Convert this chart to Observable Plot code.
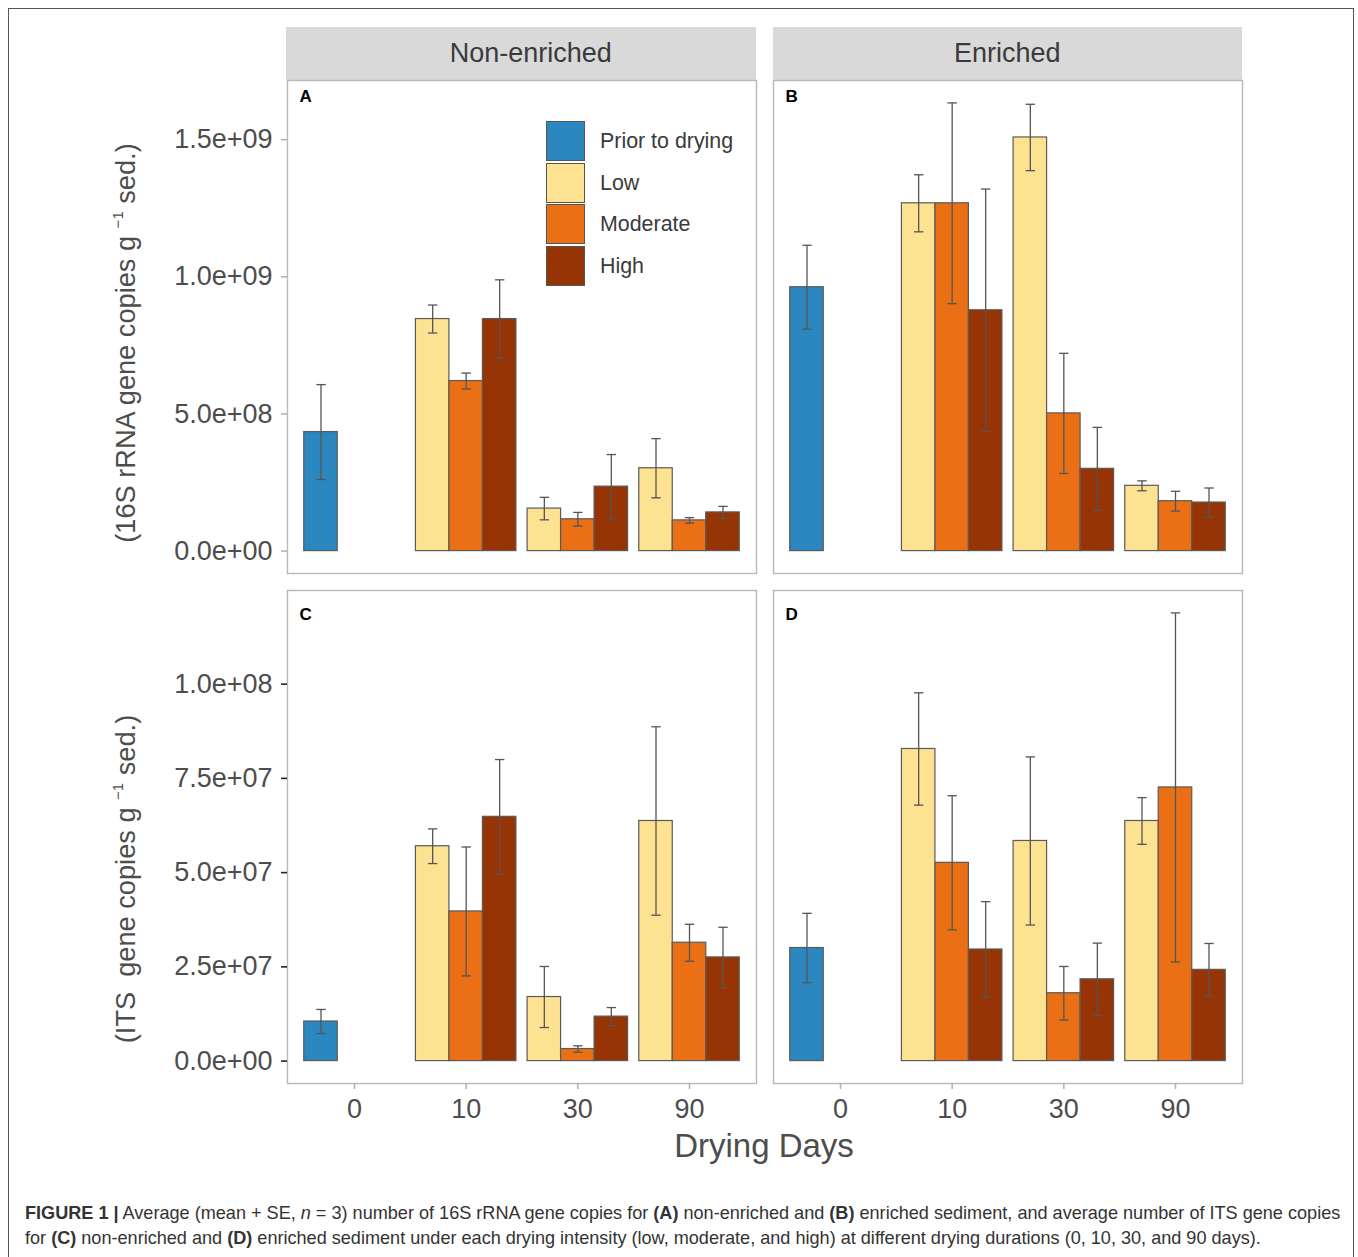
<!DOCTYPE html>
<html>
<head>
<meta charset="utf-8">
<script src="https://cdn.jsdelivr.net/npm/d3@7"></script>
<script src="https://cdn.jsdelivr.net/npm/@observablehq/plot@0.6"></script>
<style>
  html, body { margin: 0; padding: 0; background: #fff; }
  #page { position: relative; width: 1358px; height: 1257px; overflow: hidden; font-family: "Liberation Sans", Arial, sans-serif; }
  #border { position: absolute; left: 8px; top: 8px; width: 1346px; height: 1270px; border: 1.5px solid #555; box-sizing: border-box; }
  .strip { position: absolute; top: 27px; height: 53px; background: #d9d9d9; color: #3a3a3a; font-size: 27px; display: flex; align-items: center; justify-content: center; box-sizing: border-box; }
  .plot { position: absolute; left: 0; }
  .ytitle { position: absolute; font-size: 27.2px; color: #4d4d4d; white-space: pre; transform: translate(-50%, -50%) rotate(-90deg); }
  .ytitle sup { font-size: 15px; vertical-align: 12px; }
  #xtitle { position: absolute; left: 764px; top: 1146px; transform: translate(-50%, -50%); font-size: 33px; color: #4d4d4d; }
  .sw { position: absolute; left: 546px; width: 39px; height: 40px; border: 1.5px solid #555; box-sizing: border-box; }
  .lt { position: absolute; left: 600px; font-size: 21.4px; color: #3a3a3a; transform: translateY(-50%); white-space: nowrap; }
  #caption { position: absolute; left: 25px; top: 1201px; font-size: 18.1px; line-height: 25px; color: #333; white-space: nowrap; }
</style>
</head>
<body>
<div id="page">
  <div id="border"></div>
</div>
<script>
// ---------- data ----------
const days = ["0", "10", "30", "90"];
const treatments = ["Prior to drying", "Low", "Moderate", "High"];
const enrichment = ["Non-enriched", "Enriched"];
const colors = ["#2c87bf", "#fde291", "#ea6f15", "#973405"];

const barDays = ["0", "10", "10", "10", "30", "30", "30", "90", "90", "90"];
const barTreatments = ["Prior to drying", "Low", "Moderate", "High", "Low", "Moderate", "High", "Low", "Moderate", "High"];

// 16S rRNA gene copies (panel A: non-enriched, panel B: enriched)
const meanA = [4.34e8, 8.46e8, 6.20e8, 8.46e8, 1.55e8, 1.16e8, 2.35e8, 3.02e8, 1.12e8, 1.41e8];
const seA   = [1.73e8, 0.51e8, 0.29e8, 1.43e8, 0.41e8, 0.25e8, 1.17e8, 1.08e8, 0.10e8, 0.22e8];
const meanB = [9.62e8, 12.68e8, 12.68e8, 8.78e8, 15.08e8, 5.02e8, 3.00e8, 2.38e8, 1.82e8, 1.77e8];
const seB   = [1.53e8, 1.04e8, 3.66e8, 4.42e8, 1.21e8, 2.19e8, 1.51e8, 0.18e8, 0.36e8, 0.53e8];

// ITS gene copies (panel C: non-enriched, panel D: enriched)
const meanC = [1.05e7, 5.70e7, 3.97e7, 6.48e7, 1.70e7, 0.32e7, 1.18e7, 6.37e7, 3.14e7, 2.75e7];
const seC   = [0.32e7, 0.46e7, 1.71e7, 1.52e7, 0.81e7, 0.085e7, 0.24e7, 2.50e7, 0.49e7, 0.80e7];
const meanD = [3.00e7, 8.28e7, 5.26e7, 2.96e7, 5.84e7, 1.80e7, 2.17e7, 6.37e7, 7.26e7, 2.42e7];
const seD   = [0.92e7, 1.49e7, 1.78e7, 1.27e7, 2.23e7, 0.71e7, 0.96e7, 0.62e7, 4.63e7, 0.70e7];

const ticks16S = [0, 5e8, 1e9, 1.5e9];
const ticksITS = [0, 2.5e7, 5e7, 7.5e7, 1e8];
const panelLabelsTop = ["A", "B"];
const panelLabelsBottom = ["C", "D"];

// ---------- helpers ----------
function sci(v) {
  const [m, e] = v.toExponential(1).split("e");
  const n = +e;
  return `${m}e${n < 0 ? "-" : "+"}${String(Math.abs(n)).padStart(2, "0")}`;
}
function rowsFor(panelMeans, panelSes) {
  const out = [];
  enrichment.forEach((en, p) => {
    barDays.forEach((day, i) => {
      const t = barTreatments[i];
      const slot = Math.max(0, treatments.indexOf(t) - 1);
      out.push({enrichment: en, day, treatment: t, mean: panelMeans[p][i], se: panelSes[p][i],
                xc: days.indexOf(day) + 1 + (slot - 1) * 0.3});
    });
  });
  return out;
}

function rowPlot({rows, ticks, height, marginTop, marginBottom, showX, yTickColor, labels, dx, dy}) {
  const hi = d3.max(rows, d => d.mean + d.se);
  const fx = "enrichment";
  const barStroke = "#5a5a5a", errColor = "#555";
  return Plot.plot({
    width: 1358, height, marginLeft: 286, marginRight: 116, marginTop, marginBottom,
    style: {fontFamily: "'Liberation Sans', Arial, sans-serif", background: "transparent", overflow: "visible"},
    fx: {domain: enrichment, paddingInner: 0.035, paddingOuter: 0, axis: null, label: null},
    x: {domain: [0.4, 4.6], axis: null},
    y: {domain: [-hi * 0.05, hi * 1.05], axis: null},
    color: {domain: treatments, range: colors},
    marks: [
      Plot.frame({stroke: "#b8b8b8", strokeWidth: 1.4}),
      Plot.rect(rows, {fx, x1: d => d.xc - 0.15, x2: d => d.xc + 0.15, y1: 0, y2: "mean",
                       fill: "treatment", stroke: barStroke, strokeWidth: 1.2}),
      Plot.link(rows, {fx, x1: "xc", x2: "xc", y1: d => d.mean - d.se, y2: d => d.mean + d.se,
                       stroke: errColor, strokeWidth: 1.3}),
      Plot.link(rows, {fx, x1: d => d.xc - 0.042, x2: d => d.xc + 0.042, y1: d => d.mean + d.se, y2: d => d.mean + d.se,
                       stroke: errColor, strokeWidth: 1.3}),
      Plot.link(rows, {fx, x1: d => d.xc - 0.042, x2: d => d.xc + 0.042, y1: d => d.mean - d.se, y2: d => d.mean - d.se,
                       stroke: errColor, strokeWidth: 1.3}),
      Plot.axisY({ticks, tickFormat: sci, tickSize: 6, tickPadding: 9, fontSize: 27,
                  stroke: yTickColor, strokeWidth: 1.6, fill: "#4d4d4d", label: null}),
      showX ? Plot.axisX({ticks: [1, 2, 3, 4], tickFormat: i => days[i - 1], tickSize: 6, tickPadding: 9,
                          fontSize: 27, stroke: "#b3b3b3", strokeWidth: 1.6, fill: "#4d4d4d", label: null}) : null,
      Plot.text(enrichment.map((en, i) => ({enrichment: en, label: labels[i]})),
                {fx, text: "label", frameAnchor: "top-left", dx, dy, fontWeight: "bold", fontSize: 17, fill: "#000"})
    ]
  });
}

const page = document.getElementById("page");

// strip headers
[[286, 469.5, 20], [772.5, 469.5, 0]].forEach(([left, w, pad], i) => {
  const s = document.createElement("div");
  s.className = "strip";
  s.style.left = left + "px";
  s.style.width = w + "px";
  s.style.paddingLeft = pad + "px";
  s.textContent = enrichment[i];
  page.appendChild(s);
});

// top row (16S)
const topRow = rowPlot({rows: rowsFor([meanA, meanB], [seA, seB]), ticks: ticks16S, height: 513, marginTop: 10, marginBottom: 10,
                     showX: false, yTickColor: "#b3b3b3", labels: panelLabelsTop, dx: 12, dy: 9});
topRow.classList.add("plot");
topRow.style.top = "70px";
page.appendChild(topRow);

// bottom row (ITS)
const bottomRow = rowPlot({rows: rowsFor([meanC, meanD], [seC, seD]), ticks: ticksITS, height: 548, marginTop: 10, marginBottom: 45,
                        showX: true, yTickColor: "#222", labels: panelLabelsBottom, dx: 12, dy: 17});
bottomRow.classList.add("plot");
bottomRow.style.top = "580px";
page.appendChild(bottomRow);

// y titles
function ytitle(html, cy) {
  const d = document.createElement("div");
  d.className = "ytitle";
  d.innerHTML = html;
  d.style.left = "125px";
  d.style.top = cy + "px";
  page.appendChild(d);
}
ytitle("(16S rRNA gene copies g <sup>−1</sup> sed.)", 343);
ytitle("(ITS  gene copies g <sup>−1</sup> sed.)", 879);

// x title
const xt = document.createElement("div");
xt.id = "xtitle";
xt.textContent = "Drying Days";
page.appendChild(xt);

// legend (inside panel A)
const swTops = [121, 162.5, 204, 245.5];
treatments.forEach((t, i) => {
  const sw = document.createElement("div");
  sw.className = "sw";
  sw.style.top = swTops[i] + "px";
  sw.style.background = colors[i];
  page.appendChild(sw);
  const lt = document.createElement("div");
  lt.className = "lt";
  lt.style.top = (swTops[i] + 20) + "px";
  lt.textContent = t;
  page.appendChild(lt);
});

// caption
const cap = document.createElement("div");
cap.id = "caption";
cap.innerHTML = "<b>FIGURE 1 |</b> Average (mean + SE, <i>n</i> = 3) number of 16S rRNA gene copies for <b>(A)</b> non-enriched and <b>(B)</b> enriched sediment, and average number of ITS gene copies<br>for <b>(C)</b> non-enriched and <b>(D)</b> enriched sediment under each drying intensity (low, moderate, and high) at different drying durations (0, 10, 30, and 90 days).";
page.appendChild(cap);
</script>
</body>
</html>
